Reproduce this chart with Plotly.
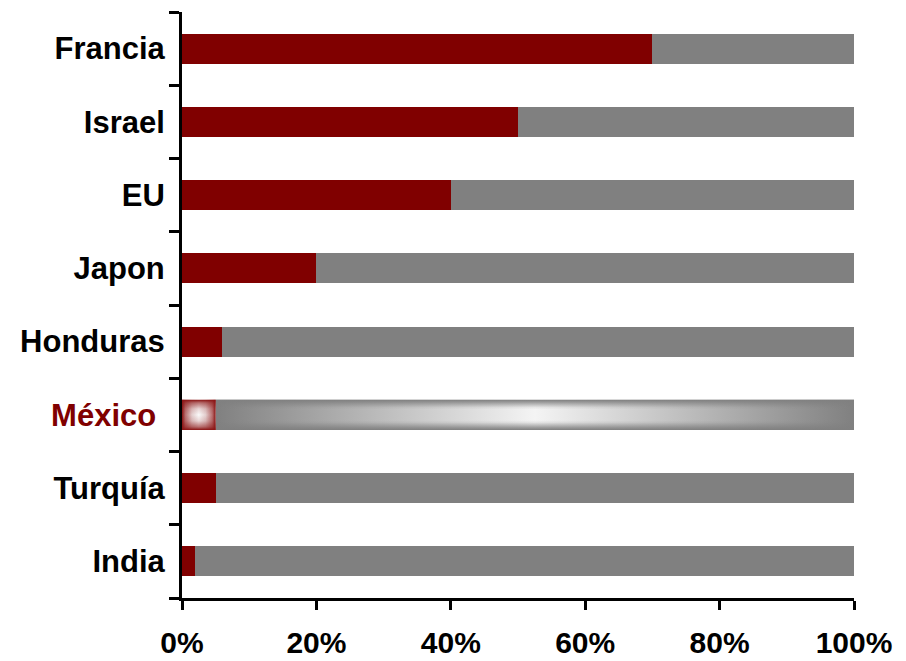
import plotly.graph_objects as go

# Data (bottom to top)
categories = ["India", "Turquía", "México", "Honduras", "Japon", "EU", "Israel", "Francia"]
red_values = [2, 5, 5, 6, 20, 40, 50, 70]
gray_values = [98, 95, 95, 94, 80, 60, 50, 30]
highlight = "México"
x_ticks = [0, 20, 40, 60, 80, 100]
x_ticklabels = ["0%", "20%", "40%", "60%", "80%", "100%"]

RED = "#800000"
GRAY = "#808080"
BAR_W = 0.41

ypos = list(range(len(categories)))
hi = categories.index(highlight)

red_colors = [RED if c != highlight else "rgba(0,0,0,0)" for c in categories]
gray_colors = [GRAY if c != highlight else "rgba(0,0,0,0)" for c in categories]

fig = go.Figure()
fig.add_trace(go.Bar(y=ypos, x=red_values, orientation="h", width=BAR_W,
                     marker=dict(color=red_colors, line=dict(width=0)), hoverinfo="x"))
fig.add_trace(go.Bar(y=ypos, x=gray_values, orientation="h", width=BAR_W,
                     marker=dict(color=gray_colors, line=dict(width=0)), hoverinfo="x"))

# Highlighted (gradient) bar for México
h = BAR_W / 2
yc = ypos[hi]
r0, r1 = 0, red_values[hi]
g0, g1 = red_values[hi], red_values[hi] + gray_values[hi]

def rect(x0, x1):
    return [x0, x1, x1, x0, x0], [yc - h, yc - h, yc + h, yc + h, yc - h]

def grad_trace(xs, ys, gtype, cs):
    return go.Scatter(x=xs, y=ys, fill="toself", mode="lines", line=dict(width=0),
                      fillgradient=dict(type=gtype, colorscale=cs),
                      hoverinfo="skip", showlegend=False)

gx, gy = rect(g0, g1)
fig.add_trace(grad_trace(gx, gy, "horizontal",
                         [[0, "#808080"], [0.5, "#f4f4f4"], [1, "#808080"]]))
a = "rgba(128,128,128,{})"
fig.add_trace(grad_trace(gx, gy, "vertical",
                         [[0, a.format(1)], [0.08, a.format(0.75)],
                          [0.25, a.format(0.12)], [0.32, a.format(0)],
                          [0.68, a.format(0)], [0.75, a.format(0.12)],
                          [0.92, a.format(0.75)], [1, a.format(1)]]))

rx, ry = rect(r0, r1)
fig.add_trace(grad_trace(rx, ry, "horizontal",
                         [[0, "#8a1414"], [0.1, "#b87070"], [0.3, "#e4d0d0"],
                          [0.5, "#fafafa"], [0.7, "#e4d0d0"], [0.9, "#b87070"], [1, "#8a1414"]]))
b = "rgba(138,20,20,{})"
fig.add_trace(grad_trace(rx, ry, "vertical",
                         [[0, b.format(1)], [0.1, b.format(0.6)], [0.3, b.format(0.15)],
                          [0.5, b.format(0)], [0.7, b.format(0.15)], [0.9, b.format(0.6)], [1, b.format(1)]]))

ticktext = []
for c in categories:
    if c == highlight:
        ticktext.append('<span style="color:#800000">' + c + '\u00a0</span>')
    else:
        ticktext.append(c)

yfont = dict(family="Liberation Sans, Arial, sans-serif", size=31, color="black", weight="bold")
xfont = dict(family="Liberation Sans, Arial, sans-serif", size=30, color="black", weight="bold")

fig.update_layout(
    barmode="stack",
    width=906, height=661,
    margin=dict(l=182, r=52, t=12, b=63, autoexpand=False),
    plot_bgcolor="white", paper_bgcolor="white",
    showlegend=False,
    bargap=0,
    font=yfont,
)
fig.update_xaxes(range=[0, 100], tickvals=x_ticks, ticktext=x_ticklabels, automargin=False,
                 showgrid=False, zeroline=False, showline=True, linecolor="black", linewidth=3,
                 ticks="outside", ticklen=9, tickwidth=3, tickcolor="black",
                 tickfont=xfont, ticklabelstandoff=7, fixedrange=True)
fig.update_yaxes(range=[-0.5, len(categories) - 0.5], tickvals=ypos, ticktext=ticktext, automargin=False,
                 showgrid=False, zeroline=False, showline=True, linecolor="black", linewidth=3,
                 ticks="", tickfont=yfont, ticklabelstandoff=8,
                 minor=dict(ticks="outside", ticklen=10, tickwidth=3, tickcolor="black",
                            tick0=0.5, dtick=1, showgrid=False),
                 fixedrange=True)

fig.write_html("out.html", config={"displayModeBar": False},
               post_script="document.body.style.margin='0';")
